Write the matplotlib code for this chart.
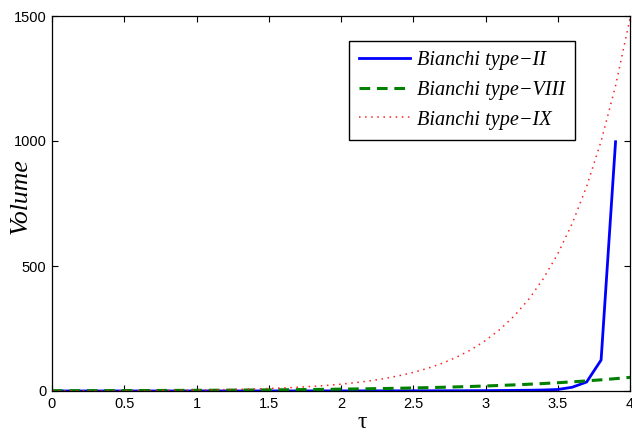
import matplotlib
matplotlib.use("Agg")
import matplotlib.pyplot as plt

# time samples (step 0.1)
tau = [round(0.1 * i, 1) for i in range(41)]

# volume for each Bianchi model
vol_type2 = [0.1, 0.1, 0.1, 0.1, 0.1, 0.1, 0.1, 0.1, 0.1, 0.1,
             0.2, 0.2, 0.2, 0.2, 0.2, 0.3, 0.3, 0.3, 0.4, 0.4,
             0.5, 0.5, 0.6, 0.6, 0.7, 0.8, 0.9, 1.0, 1.1, 1.3,
             1.5, 2.0, 2.5, 3.0, 4.0, 6.0, 15.0, 36.0, 124.0, 997.0]
vol_type8 = [1.00, 1.11, 1.22, 1.35, 1.49, 1.65, 1.82, 2.01, 2.23, 2.46,
             2.72, 3.00, 3.32, 3.67, 4.06, 4.48, 4.95, 5.47, 6.05, 6.69,
             7.39, 8.17, 9.03, 9.97, 11.02, 12.18, 13.46, 14.88, 16.44, 18.17,
             20.09, 22.20, 24.53, 27.11, 29.96, 33.12, 36.60, 40.45, 44.70, 49.40,
             54.60]
vol_type9 = [0.50, 0.61, 0.75, 0.91, 1.11, 1.36, 1.66, 2.03, 2.48, 3.02,
             3.69, 4.51, 5.51, 6.73, 8.22, 10.04, 12.27, 14.98, 18.30, 22.35,
             27.30, 33.34, 40.72, 49.74, 60.76, 74.21, 90.64, 110.7, 135.2, 165.2,
             201.7, 246.4, 301.0, 367.6, 449.0, 548.3, 669.8, 818.0, 999.2, 1220.4,
             1490.5]

x_ticks = [0, 0.5, 1, 1.5, 2, 2.5, 3, 3.5, 4]
y_ticks = [0, 500, 1000, 1500]

plt.rcParams["font.family"] = ["Liberation Sans", "DejaVu Sans"]

fig = plt.figure(figsize=(6.32, 4.33), dpi=100)
ax = fig.add_axes([52 / 632, 1 - 391 / 433, 578 / 632, 375 / 433])

ax.plot(tau[:len(vol_type2)], vol_type2, color="#0000ff", lw=2.0,
        label="Bianchi type\u2212II")
ax.plot(tau, vol_type8, color="#008000", lw=2.2, linestyle=(0, (3.5, 2.2)),
        label="Bianchi type\u2212VIII")
ax.plot(tau, vol_type9, color="#ff2020", lw=1.1, linestyle=(0, (1, 3.0)),
        label="Bianchi type\u2212IX")

ax.set_xlim(0, 4)
ax.set_ylim(0, 1500)
ax.set_xticks(x_ticks)
ax.set_xticklabels([f"{t:g}" for t in x_ticks])
ax.set_yticks(y_ticks)
ax.tick_params(direction="in", top=True, right=True, length=4, width=0.8,
               labelsize=10.5, pad=4)
for spine in ax.spines.values():
    spine.set_linewidth(0.9)

ax.set_xlabel("\u03c4", fontsize=17, family="Liberation Serif")
ax.xaxis.set_label_coords(0.536, -0.055)
ax.set_ylabel("Volume", fontsize=18.5, family="Liberation Serif", style="italic")
ax.yaxis.set_label_coords(-0.036, 0.52)

leg = ax.legend(loc="upper left", bbox_to_anchor=(297 / 578, 0.934),
                prop={"family": "Liberation Serif", "style": "italic", "size": 14.6},
                handlelength=2.5, handletextpad=0.35, borderpad=0.5,
                labelspacing=0.52, borderaxespad=0, fancybox=False,
                framealpha=1, edgecolor="black")
leg.get_frame().set_linewidth(1.0)

fig.savefig("out.png", dpi=100)
